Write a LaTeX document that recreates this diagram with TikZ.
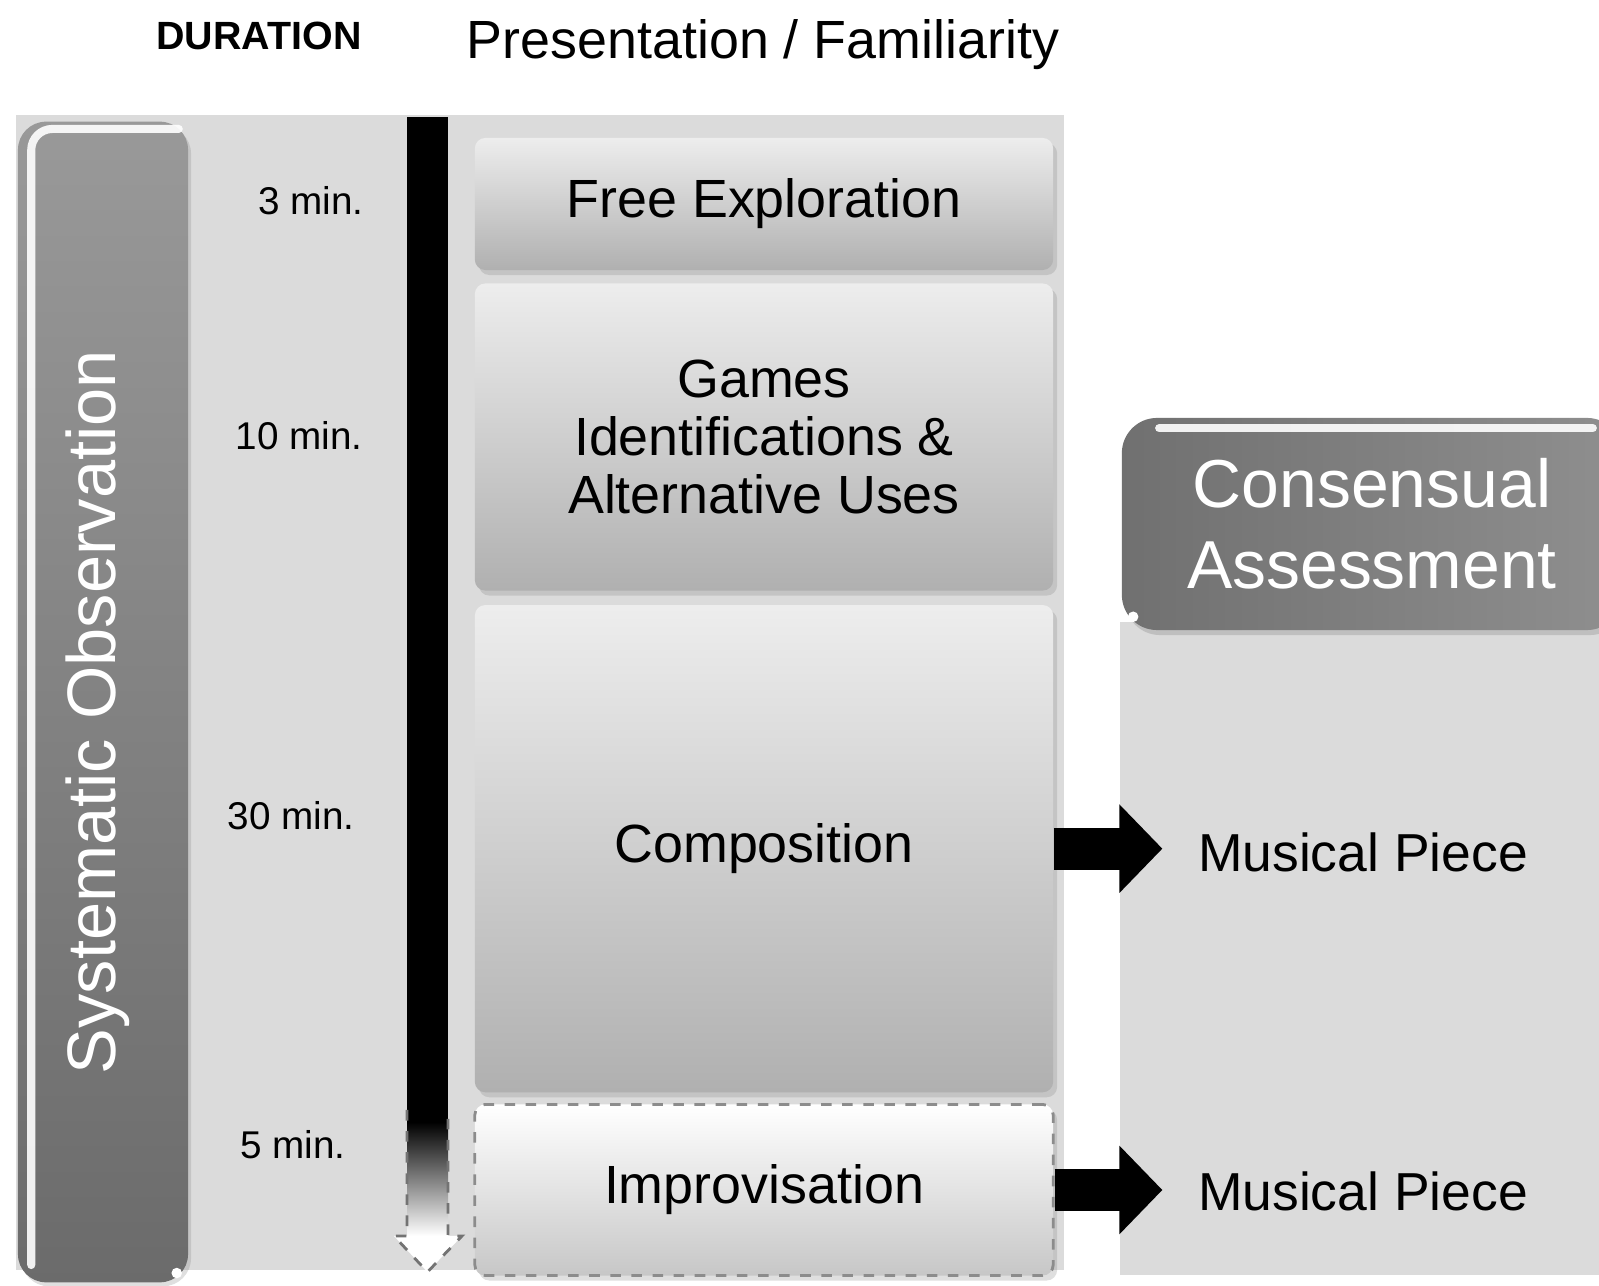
\documentclass[tikz,border=0pt]{standalone}
\usepackage{fontspec}
\setmainfont{Liberation Sans}
\usetikzlibrary{arrows.meta, positioning, calc, shadows}

\begin{document}
\begin{tikzpicture}[
  x=0.01cm, y=-0.01cm,
  panel/.style={fill=black!14},
  phase/.style={rectangle, rounded corners=3pt, top color=black!7, bottom color=black!31, minimum width=5.78cm, align=center, font=\fontsize{15.3}{16.5}\selectfont, drop shadow={opacity=0.25, shadow xshift=0.04cm, shadow yshift=-0.05cm}},
  optional/.style={top color=white, bottom color=black!22, draw=black!45, dashed, line width=0.8pt},
  dur/.style={font=\fontsize{11}{13}\selectfont, inner sep=0pt},
  obsbar/.style={rectangle, rounded corners=8pt, top color=black!40, bottom color=black!58, minimum width=1.70cm, minimum height=11.6cm, drop shadow={opacity=0.25, shadow xshift=0.03cm, shadow yshift=-0.04cm}},
  header/.style={rectangle, rounded corners=10pt, left color=black!56, right color=black!44, text=white, align=center, minimum width=5.0cm, minimum height=2.12cm, font=\fontsize{19.3}{23}\selectfont, drop shadow={opacity=0.3, shadow xshift=0.03cm, shadow yshift=-0.05cm}},
  glare/.style={white, line width=2.3pt, line cap=round, opacity=0.9},
  piece/.style={font=\fontsize{15.2}{17}\selectfont, inner sep=0pt},
  bigarrow/.style={line width=0.42cm, shorten >=0.35cm, -{Triangle[length=0.43cm, width=0.86cm]}}
]
  \useasboundingbox (0,0) rectangle (1599,1286);

  % background panels
  \fill[panel] (16,115) rectangle (1064,1270);
  \fill[panel] (1120,622) rectangle (1599,1275);

  % column headings
  \node[font=\bfseries\fontsize{11.2}{13}\selectfont] (durhead) at (259,36) {DURATION};
  \node[font=\fontsize{15.3}{17}\selectfont, anchor=base] (presentation) at (763,59) {Presentation / Familiarity};

  % systematic observation bar
  \node[obsbar] (obs) at (103,702) {};
  \node[rotate=90, text=white, font=\fontsize{19.5}{22}\selectfont] (obstext) at (98,712) {Systematic Observation};
  \draw[glare, rounded corners=6pt] ($(obs.south west)+(14,-18)$) -- ($(obs.north west)+(14,8)$) -- ($(obs.north east)+(-10,8)$);
  \fill[white] ($(obs.south east)+(-12,-10)$) circle (1.5pt);

  % time line
  \fill[black] (407,117) rectangle (448,1122);
  \shade[top color=black, bottom color=white] (407,1122) rectangle (448,1236);
  \fill[white] (407,1236) -- (394,1236) -- (427.5,1272) -- (462,1236) -- (448,1236) -- cycle;
  \draw[dashed, black!55, line width=0.8pt] (407,1110) -- (407,1236) -- (394,1236) -- (427.5,1272) -- (462,1236) -- (448,1236) -- (448,1110);

  % durations
  \node[dur] (d1) at (311,201) {3 min.};
  \node[dur] (d2) at (299,436) {10 min.};
  \node[dur] (d3) at (291,816) {30 min.};
  \node[dur] (d4) at (293,1145) {5 min.};

  % phases
  \node[phase, minimum height=1.32cm] (free) at (764,204) {Free Exploration};
  \node[phase, minimum height=3.07cm, below=0.12cm of free] (games) {Games\\Identifications \&\\Alternative Uses};
  \node[phase, minimum height=4.87cm, below=0.13cm of games] (comp) {Composition};
  \node[phase, optional, minimum height=1.71cm, below=0.10cm of comp] (impro) {Improvisation};

  % consensual assessment
  \node[header] (cons) at (1372,524) {Consensual\\Assessment};
  \draw[glare] ($(cons.north west)+(38,11)$) -- ($(cons.north east)+(-30,11)$);
  \fill[white] ($(cons.south west)+(12,-14)$) circle (1.5pt);

  \node[piece] (piece1) at (1363,852) {Musical Piece};
  \node[piece] (piece2) at (1363,1191) {Musical Piece};

  \draw[bigarrow] (comp.east) -- (comp.east -| piece1.west);
  \draw[bigarrow] (impro.east) -- (impro.east -| piece2.west);
\end{tikzpicture}
\end{document}
